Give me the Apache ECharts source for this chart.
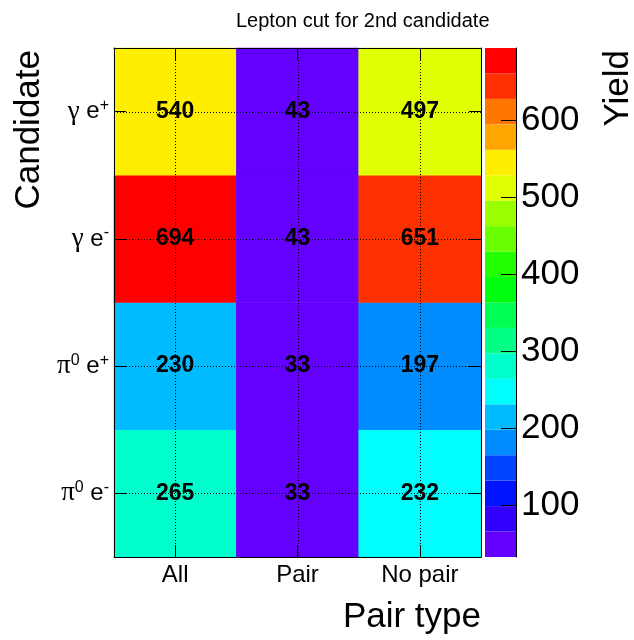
<!DOCTYPE html>
<html>
<head>
<meta charset="utf-8">
<script src="https://cdn.jsdelivr.net/npm/echarts@6/dist/echarts.min.js"></script>
<style>
  html, body { margin: 0; padding: 0; background: #fff; }
  #chart { width: 634px; height: 640px; }
</style>
</head>
<body>
<div id="chart"></div>
<script>
// Pair types along x, candidates along y (bottom to top)
const pairTypes = ['All', 'Pair', 'No pair'];
const candidates = ['π0 e-', 'π0 e+', 'γ e-', 'γ e+'];

// Yields per candidate (bottom to top) for each pair type
const yieldAll    = [265, 230, 694, 540];
const yieldPair   = [33, 33, 43, 43];
const yieldNoPair = [232, 197, 651, 497];

// Colour bar labels
const colorbarTicks = [100, 200, 300, 400, 500, 600];

const NCONT = 20;       // number of colour contours
const NPAL = 50;        // size of the violet->red spectrum

const columns = [yieldAll, yieldPair, yieldNoPair];
const cells = [];
columns.forEach((col, xi) => col.forEach((v, yi) => cells.push([xi, yi, v])));
const allValues = cells.map(c => c[2]);
const zmin = Math.min(...allValues);
const zmax = Math.max(...allValues);

// HLS spectrum, saturation 1 and lightness 0.5, hue scanned from violet to red
function hueToHex(h) {
  const f = (n) => {
    const k = (n + h / 30) % 12;
    const c = 0.5 - 0.5 * Math.max(-1, Math.min(k - 3, 9 - k, 1));
    return Math.round(c * 255).toString(16).padStart(2, '0');
  };
  return '#' + f(0) + f(8) + f(4);
}
function paletteColor(i) {
  const hue = Math.max(0, 280 - (i + 1) * (280 / NPAL));
  return hueToHex(hue);
}
const bands = [];
for (let i = 0; i < NCONT; i++) {
  const lo = zmin + i * (zmax - zmin) / NCONT;
  const hi = zmin + (i + 1) * (zmax - zmin) / NCONT;
  const idx = Math.min(NPAL - 1, Math.floor((i + 0.99) * NPAL / NCONT));
  bands.push({ lo, hi, color: paletteColor(idx) });
}
const pieces = bands.map((b, i) => i === NCONT - 1
  ? { gte: b.lo, lte: b.hi + 1e-9, color: b.color }
  : { gte: b.lo, lt: b.hi, color: b.color });

const FONT = 'Liberation Sans, Arial, Helvetica, sans-serif';

function candidateLabel(value) {
  const m = /^(\S)(\d?) (\S)([+-])$/.exec(value);
  if (!m) return value;
  return '{g|' + m[1] + '}' + (m[2] ? '{s|' + m[2] + '}' : '') +
         '{t| ' + m[3] + '}{s|' + m[4] + '}';
}

const chart = echarts.init(document.getElementById('chart'), null, { renderer: 'canvas' });

const tickLine = { lineStyle: { color: '#000', width: 1 } };

chart.setOption({
  backgroundColor: '#fff',
  animation: false,
  title: {
    text: 'Lepton cut for 2nd candidate',
    left: 231, top: 6,
    textStyle: { fontFamily: FONT, fontSize: 20, fontWeight: 'normal', color: '#000' }
  },
  grid: [
    { left: 114, top: 48, width: 367, height: 509 },
    { left: 485, top: 48, width: 31, height: 509 }
  ],
  xAxis: [
    {
      gridIndex: 0, type: 'category', data: pairTypes, position: 'bottom', z: 10,
      axisLine: { show: true, lineStyle: { color: '#000', width: 1 } },
      axisTick: { show: true, inside: true, alignWithLabel: true, length: 12, ...tickLine },
      axisLabel: { fontFamily: FONT, fontSize: 24, color: '#000', margin: 6 },
      splitLine: { show: false }
    },
    {
      gridIndex: 0, type: 'category', data: pairTypes, position: 'top', z: 10,
      axisLine: { show: true, lineStyle: { color: '#000', width: 1 } },
      axisTick: { show: true, inside: true, alignWithLabel: true, length: 12, ...tickLine },
      axisLabel: { show: false },
      splitLine: { show: false }
    },
    { gridIndex: 1, type: 'category', data: ['z'], show: false }
  ],
  yAxis: [
    {
      gridIndex: 0, type: 'category', data: candidates, position: 'left', z: 10,
      axisLine: { show: true, lineStyle: { color: '#000', width: 1 } },
      axisTick: { show: true, inside: true, alignWithLabel: true, length: 12, ...tickLine },
      axisLabel: {
        margin: 5, color: '#000',
        formatter: candidateLabel,
        rich: {
          g: { fontFamily: 'Liberation Serif, DejaVu Serif, serif', fontSize: 27, color: '#000' },
          t: { fontFamily: FONT, fontSize: 24, color: '#000' },
          s: { fontFamily: FONT, fontSize: 16, color: '#000', padding: [0, 0, 12, 0] }
        }
      },
      splitLine: { show: false }
    },
    {
      gridIndex: 0, type: 'category', data: candidates, position: 'right', z: 10,
      axisLine: { show: true, lineStyle: { color: '#000', width: 1 } },
      axisTick: { show: true, inside: true, alignWithLabel: true, length: 12, ...tickLine },
      axisLabel: { show: false },
      splitLine: { show: false }
    },
    {
      gridIndex: 1, type: 'value', min: zmin, max: zmax, position: 'right', z: 10,
      axisLine: { show: true, lineStyle: { color: '#000', width: 1 } },
      axisTick: { show: true, inside: true, length: 15, customValues: colorbarTicks, ...tickLine },
      axisLabel: { fontFamily: FONT, fontSize: 35, color: '#000', margin: 5, customValues: colorbarTicks },
      splitLine: { show: false }
    }
  ],
  visualMap: {
    type: 'piecewise', show: false, seriesIndex: 0, dimension: 2, pieces
  },
  series: [
    {
      type: 'heatmap', xAxisIndex: 0, yAxisIndex: 0, data: cells, z: 2,
      itemStyle: { borderWidth: 0 },
      label: {
        show: true, formatter: p => String(p.value[2]),
        fontFamily: FONT, fontSize: 23, fontWeight: 'bold', color: '#000'
      },
      emphasis: { disabled: true }
    },
    {
      // dotted grid at pair-type centres
      type: 'custom', xAxisIndex: 0, yAxisIndex: 0, z: 4, silent: true,
      data: pairTypes.map((_, i) => [i, 0]),
      encode: { x: 0, y: 1 },
      renderItem: (params, api) => {
        const cs = params.coordSys;
        const x = Math.round(api.coord([api.value(0), 0])[0]) + 0.5;
        return { type: 'line', shape: { x1: x, y1: cs.y, x2: x, y2: cs.y + cs.height },
                 style: { stroke: '#000', lineWidth: 1, lineDash: [1, 2] } };
      }
    },
    {
      // dotted grid at candidate centres
      type: 'custom', xAxisIndex: 0, yAxisIndex: 0, z: 4, silent: true,
      data: candidates.map((_, i) => [0, i]),
      encode: { x: 0, y: 1 },
      renderItem: (params, api) => {
        const cs = params.coordSys;
        const y = Math.round(api.coord([0, api.value(1)])[1]) + 0.5;
        return { type: 'line', shape: { x1: cs.x, y1: y, x2: cs.x + cs.width, y2: y },
                 style: { stroke: '#000', lineWidth: 1, lineDash: [1, 2] } };
      }
    },
    {
      // colour scale
      type: 'custom', xAxisIndex: 2, yAxisIndex: 2, z: 2, silent: true,
      data: bands.map((b, i) => [0, b.lo, b.hi, i]),
      encode: { x: 0, y: [1, 2] },
      renderItem: (params, api) => {
        const cs = params.coordSys;
        const yTop = api.coord([0, api.value(2)])[1];
        const yBot = api.coord([0, api.value(1)])[1];
        return { type: 'rect', shape: { x: cs.x, y: yTop, width: cs.width, height: yBot - yTop },
                 style: { fill: bands[api.value(3)].color, stroke: null } };
      }
    }
  ],
  graphic: [
    {
      type: 'text', x: 481, y: 617,
      style: { text: 'Pair type', font: '35px ' + FONT, fill: '#000',
               textAlign: 'right', textVerticalAlign: 'middle' }
    },
    {
      type: 'text', x: 29, y: 50, rotation: Math.PI / 2,
      style: { text: 'Candidate', font: '35px ' + FONT, fill: '#000',
               textAlign: 'right', textVerticalAlign: 'middle' }
    },
    {
      type: 'text', x: 618, y: 50, rotation: Math.PI / 2,
      style: { text: 'Yield', font: '35px ' + FONT, fill: '#000',
               textAlign: 'right', textVerticalAlign: 'middle' }
    }
  ]
});
</script>
</body>
</html>
